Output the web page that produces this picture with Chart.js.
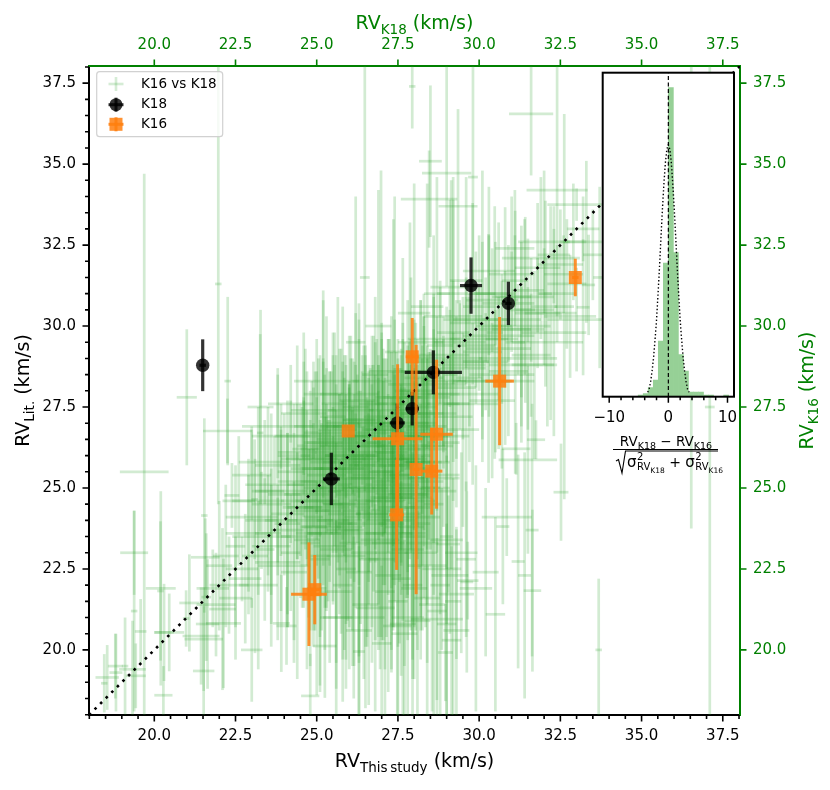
<!DOCTYPE html>
<html>
<head>
<meta charset="utf-8">
<script src="https://cdn.jsdelivr.net/npm/chart.js@4.4.0/dist/chart.umd.min.js"></script>
<style>
  body { margin: 0; background: #fff; }
  #wrap { position: relative; width: 830px; height: 790px; }
  #main { position: absolute; left: 0; top: 0; }
  #inset { position: absolute; left: 560px; top: 60px; }
</style>
</head>
<body>
<div id="wrap">
  <canvas id="main" width="830" height="790"></canvas>
  <canvas id="inset" width="190" height="420"></canvas>
</div>
<script>
// ---- data ----

// K16 vs K18 stars (x = RV_K18 on top axis, y = RV_K16 on right axis)
const k18RV = [
  19.69, 21.97, 21.0, 23.27, 22.25, 21.54, 22.26, 23.26, 26.48, 26.98,
  27.36, 27.65, 27.87, 27.94, 28.5, 29.0, 28.46, 29.35, 29.14, 29.81,
  30.29, 30.48, 30.8, 31.11, 31.42, 31.6, 32.04, 32.4, 32.62, 33.37,
  33.71, 33.2, 33.0, 31.75, 31.14, 31.5, 32.52, 30.85, 31.64, 30.73,
  31.2, 33.68, 36.53, 37.1, 28.6, 29.0, 28.8, 29.2, 29.62, 31.63,
  31.4, 29.05, 29.1, 29.65, 29.3, 28.7, 28.96, 22.39, 19.38, 21.57,
  20.2, 21.08, 20.46, 21.64, 21.44, 22.1, 21.52, 20.28, 18.55, 18.82,
  19.33, 19.43, 18.46, 19.1, 20.98, 21.6, 24.07, 24.8, 25.25, 20.19,
  19.38, 23.09, 19.58, 20.3, 21.52, 22.13, 23.0, 23.91, 26.3, 26.14,
  27.48, 18.8,
  21.8, 22.0, 22.3, 22.5, 22.7, 22.9, 23.1, 23.3, 23.4, 23.6,
  23.8, 23.9, 24.1, 24.2, 24.4, 24.5, 24.7, 24.8, 24.9, 25.0,
  25.1, 25.3, 25.4, 25.5, 25.6, 25.7, 25.8, 25.9, 26.0, 26.1,
  26.2, 26.3, 26.4, 26.5, 26.6, 26.7, 26.8, 26.9, 27.0, 27.1,
  27.2, 27.3, 27.4, 27.5, 27.6, 27.7, 27.8, 27.9, 28.0, 28.1,
  28.2, 28.3, 28.4, 28.5, 28.6, 28.7, 28.8, 28.9, 29.0, 29.2,
  29.3, 29.4, 29.6, 29.7, 29.9, 30.0, 30.2, 30.3, 30.5, 30.7,
  30.9, 31.1, 31.3, 31.5, 31.8, 32.0, 32.3, 32.6, 32.9, 33.2,
  33.5, 23.9, 24.6, 24.3, 25.2, 23.0, 22.6, 27.0, 27.6, 28.2,
  26.3, 25.6, 26.8, 28.0,
  24.0, 24.3, 24.6, 24.9, 25.2, 25.4, 25.7, 25.9, 26.1, 26.4,
  26.6, 26.9, 27.1, 27.4, 27.6, 27.9, 28.1, 28.4, 28.6, 28.9,
  24.2, 24.5, 24.8, 25.0, 25.3, 25.5, 25.8, 26.0, 26.3, 26.5,
  26.7, 27.0, 27.2, 27.5, 27.7, 28.0, 28.3, 28.5, 28.8, 29.1,
  23.6, 23.9, 24.4, 24.7, 25.1, 25.6, 25.9, 26.2, 26.6, 26.9,
  27.3, 27.6, 27.9, 28.2, 28.4, 28.7, 29.0, 29.3, 29.5, 29.8,
  30.1, 30.4, 30.6, 30.9, 31.2, 31.5, 31.8, 32.1, 32.4, 32.8,
  29.1, 29.4, 29.7, 30.0, 30.2, 30.5, 30.8, 31.0, 31.3, 31.6,
  22.8, 23.2, 23.5, 23.8, 24.1, 21.9, 22.2, 22.5, 23.0, 23.7,
  25.2, 25.5, 25.8, 26.0, 26.3, 26.6, 26.8, 27.1, 27.3, 27.6,
  27.8, 28.0, 28.3, 28.6, 28.9, 29.2, 25.4, 25.7, 26.1, 26.9,
  24.6, 24.9, 25.3, 23.4, 23.8, 24.2, 26.0, 26.7, 27.4, 28.2,
  25.05, 25.35, 25.65, 25.95, 26.25, 26.55, 26.85, 27.15, 27.45, 27.75,
  28.05, 28.35, 25.15, 25.45, 25.75, 26.05, 26.35, 26.65, 26.95, 27.25,
  27.55, 27.85, 28.15, 28.45, 24.85, 25.25, 25.55, 25.85, 26.15, 26.45,
  26.75, 27.05, 27.35, 27.65, 27.95, 28.25, 24.55, 24.75, 25.1, 25.6,
  26.05, 26.55, 27.05, 27.55, 28.05, 26.3, 26.8, 27.3, 25.9, 27.8,
  28.3, 28.6, 28.9, 29.2, 29.5, 29.8, 30.1, 30.4, 30.7, 31.0,
  31.3, 31.6, 31.9, 32.2, 32.5, 28.4, 28.8, 29.1, 29.6, 29.9,
  30.3, 30.6, 31.1, 31.4, 31.7, 32.0, 32.3, 32.7, 33.0, 33.3,
  27.2, 27.5, 27.8, 28.1, 28.4, 28.7, 29.0, 29.3, 29.6, 29.9,
  27.35, 27.65, 27.95, 28.25, 28.55, 28.85, 29.15, 29.45, 30.2, 30.5,
  24.6, 24.9, 25.2, 25.5, 25.8, 26.1, 26.4, 26.7, 27.0, 27.3,
  27.6, 27.9, 28.2, 28.5, 24.7, 25.0, 25.3, 25.6, 25.9, 26.2,
  26.5, 26.8, 27.1, 27.4, 27.7, 28.0, 28.3, 24.8, 25.1, 25.4,
  25.7, 26.0, 26.3, 26.6, 26.9, 27.2, 27.5, 27.8, 28.1, 28.4,
  24.65, 24.95, 25.25, 25.55, 25.85, 26.15, 26.45, 26.75, 27.05, 27.35,
  27.65, 27.95, 28.25, 23.5, 23.8, 24.1, 24.4, 22.9, 23.2, 23.6,
  26.2, 26.9, 27.4, 28.0, 28.7, 29.2, 29.6, 30.1, 25.8, 26.5,
  27.1, 27.8, 28.4, 29.0, 24.3, 25.0, 25.6, 26.3, 27.0, 27.7
];
const k16RV = [
  25.5, 31.3, 27.8, 27.5, 26.76, 24.15, 28.3, 26.7, 31.5, 27.6,
  27.0, 26.5, 28.0, 37.4, 35.09, 34.72, 33.92, 33.7, 28.5, 34.6,
  29.0, 29.8, 30.0, 29.5, 30.5, 36.55, 31.0, 34.2, 30.6, 31.27,
  31.5, 30.58, 33.75, 26.49, 26.21, 25.87, 24.87, 24.1, 21.83, 23.81,
  22.73, 20.0, 30.95, 27.5, 24.5, 23.5, 22.0, 21.5, 22.1, 23.7,
  22.3, 23.27, 22.3, 22.14, 21.72, 20.95, 19.92, 24.77, 23.0, 22.86,
  21.9, 21.45, 20.54, 20.8, 20.43, 21.26, 19.35, 18.6, 19.15, 19.3,
  19.4, 19.2, 18.97, 19.5, 20.97, 21.63, 20.74, 18.58, 20.12, 21.82,
  21.2, 24.65, 20.57, 20.54, 20.33, 20.82, 20.0, 20.82, 19.95, 21.0,
  20.74, 19.5,
  21.9, 22.6, 22.0, 23.2, 22.5, 23.6, 22.9, 24.0, 23.1, 24.5,
  23.5, 24.9, 24.2, 23.0, 25.2, 24.4, 25.6, 24.0, 25.0, 26.0,
  23.6, 25.4, 24.6, 26.4, 25.0, 23.9, 25.8, 24.8, 26.6, 25.3,
  24.3, 26.0, 25.6, 27.0, 24.9, 26.3, 23.6, 25.9, 26.8, 25.2,
  27.4, 26.1, 24.6, 27.8, 25.7, 26.6, 28.2, 24.2, 27.2, 25.6,
  28.6, 26.6, 27.8, 25.0, 28.9, 27.3, 29.4, 26.4, 28.2, 29.8,
  27.6, 28.8, 30.1, 28.4, 29.4, 30.6, 28.9, 30.0, 31.0, 29.6,
  30.7, 31.4, 30.2, 31.1, 31.8, 30.6, 32.2, 31.6, 32.6, 33.0,
  32.2, 26.6, 27.3, 26.0, 27.9, 25.4, 24.6, 22.8, 22.2, 23.0,
  22.4, 21.8, 21.3, 21.9,
  24.8, 23.5, 25.9, 24.1, 26.7, 23.2, 25.1, 26.3, 24.0, 27.1,
  25.4, 24.6, 26.0, 25.0, 27.3, 25.9, 24.4, 26.9, 25.3, 27.6,
  25.5, 24.6, 23.3, 25.2, 24.4, 27.2, 23.7, 25.7, 23.3, 26.0,
  24.2, 27.6, 24.8, 26.4, 23.8, 26.0, 25.0, 27.3, 24.9, 26.6,
  23.2, 24.0, 22.6, 24.8, 22.8, 25.6, 22.9, 26.6, 22.8, 26.7,
  23.3, 24.9, 27.6, 23.9, 25.8, 26.3, 25.4, 28.1, 26.8, 27.6,
  28.3, 27.7, 29.3, 28.6, 29.9, 29.0, 30.4, 29.5, 31.0, 30.3,
  29.0, 29.5, 28.9, 29.6, 30.2, 28.3, 29.9, 30.9, 28.8, 30.5,
  22.2, 22.0, 23.6, 22.7, 23.7, 21.4, 22.9, 21.6, 24.1, 25.1,
  25.8, 24.0, 26.9, 24.5, 25.0, 26.4, 25.8, 25.5, 27.0, 26.2,
  25.3, 28.0, 27.5, 26.6, 28.3, 27.2, 26.2, 24.5, 26.9, 25.1,
  26.6, 27.4, 28.3, 25.8, 26.9, 27.6, 27.9, 28.3, 28.6, 29.5,
  25.6, 24.3, 26.8, 23.9, 25.9, 24.1, 27.2, 24.7, 26.3, 25.1,
  27.9, 24.6, 23.8, 26.1, 24.9, 27.4, 24.4, 25.7, 23.4, 26.9,
  24.0, 27.0, 25.8, 26.3, 25.9, 24.9, 27.6, 26.0, 23.7, 26.6,
  25.3, 24.3, 25.9, 27.8, 23.6, 26.8, 24.4, 23.6, 26.3, 26.9,
  25.6, 23.9, 26.4, 25.4, 24.7, 27.7, 28.5, 23.0, 22.5, 24.8,
  28.4, 29.6, 27.9, 30.3, 28.7, 31.0, 29.2, 30.8, 28.5, 31.6,
  30.0, 29.1, 32.1, 30.4, 31.9, 30.6, 29.1, 31.2, 27.9, 30.2,
  31.7, 29.7, 32.4, 30.9, 28.8, 32.6, 29.8, 31.3, 30.2, 32.6,
  22.3, 21.5, 23.1, 20.9, 22.6, 21.2, 23.4, 20.6, 22.8, 21.9,
  23.6, 20.8, 22.0, 23.3, 21.4, 22.5, 20.3, 23.0, 22.4, 21.1,
  25.1, 23.8, 26.4, 24.5, 27.0, 23.6, 25.7, 24.2, 26.8, 23.9,
  25.4, 27.3, 24.1, 26.2, 23.4, 26.9, 25.0, 23.1, 25.9, 27.5,
  24.6, 26.1, 23.3, 25.7, 26.9, 24.8, 27.0, 24.3, 22.9, 25.6,
  26.5, 23.8, 27.1, 25.0, 24.0, 26.3, 24.4, 25.9, 26.7, 25.2,
  26.2, 24.6, 23.6, 26.0, 24.2, 25.5, 23.0, 27.0, 25.5, 24.7,
  26.6, 23.5, 25.8, 24.9, 25.7, 23.9, 26.1, 23.5, 24.6, 22.6,
  29.5, 30.0, 29.2, 30.4, 31.0, 30.2, 31.4, 31.0, 22.0, 21.4,
  21.8, 21.0, 21.6, 20.8, 22.4, 21.9, 21.0, 20.6, 20.2, 20.5
];
const k18Err = [
  0.75, 0.1, 0.31, 0.4, 0.75, 0.1, 0.1, 0.1, 0.15, 0.2,
  0.3, 0.25, 0.3, 0.1, 0.35, 0.76, 0.87, 0.6, 0.2, 0.15,
  0.3, 0.25, 0.2, 0.3, 0.3, 0.68, 0.2, 0.94, 0.3, 0.2,
  0.2, 0.2, 0.9, 0.28, 0.44, 0.9, 0.23, 0.77, 0.27, 0.2,
  0.2, 0.1, 0.15, 0.15, 0.3, 0.2, 0.3, 0.25, 0.2, 0.2,
  0.2, 0.36, 0.57, 0.33, 0.54, 0.8, 0.23, 0.23, 0.43, 0.44,
  0.46, 0.31, 0.46, 0.36, 0.57, 0.41, 0.33, 0.28, 0.36, 0.2,
  0.41, 0.31, 0.1, 0.1, 0.1, 0.15, 0.31, 0.28, 0.36, 0.1,
  0.1, 0.1, 0.18, 0.3, 0.59, 0.54, 0.33, 0.26, 0.18, 0.95,
  0.44, 0.23,
  0.5, 0.4, 0.6, 0.3, 0.5, 0.7, 0.4, 0.5, 0.3, 0.6,
  0.4, 0.8, 0.5, 0.3, 0.6, 0.4, 0.5, 0.7, 0.3, 0.5,
  0.4, 0.6, 0.3, 0.8, 0.5, 0.4, 0.6, 0.3, 0.5, 0.7,
  0.4, 0.5, 0.3, 0.6, 0.5, 0.4, 0.3, 0.8, 0.5, 0.4,
  0.6, 0.5, 0.3, 0.7, 0.4, 0.5, 0.6, 0.3, 0.5, 0.4,
  0.6, 0.5, 0.7, 0.3, 0.5, 0.6, 0.4, 0.5, 0.6, 0.5,
  0.4, 0.8, 0.5, 0.4, 0.6, 0.5, 0.7, 0.4, 0.6, 0.5,
  0.8, 0.4, 0.6, 0.5, 0.7, 0.4, 0.5, 0.6, 0.4, 0.5,
  0.3, 0.9, 0.7, 0.5, 0.6, 0.6, 0.5, 0.4, 0.3, 0.5,
  0.4, 0.5, 0.6, 0.4,
  0.5, 0.4, 0.7, 0.3, 0.6, 0.5, 0.4, 0.8, 0.3, 0.6,
  0.5, 0.4, 0.6, 0.7, 0.3, 0.5, 0.4, 0.6, 0.8, 0.5,
  0.4, 0.6, 0.3, 0.5, 0.7, 0.4, 0.5, 0.3, 0.6, 0.4,
  0.5, 0.7, 0.4, 0.3, 0.6, 0.5, 0.8, 0.4, 0.5, 0.6,
  0.6, 0.5, 0.4, 0.7, 0.3, 0.5, 0.6, 0.4, 0.3, 0.7,
  0.4, 0.5, 0.6, 0.3, 0.7, 0.5, 0.4, 0.6, 0.5, 0.8,
  0.9, 0.7, 1.0, 0.6, 0.8, 0.9, 0.7, 1.1, 0.6, 0.8,
  1.0, 0.8, 0.6, 0.9, 0.7, 1.2, 0.8, 0.6, 1.0, 0.7,
  0.5, 0.6, 0.4, 0.7, 0.5, 0.6, 0.4, 0.5, 0.8, 0.9,
  0.4, 0.5, 0.3, 0.6, 0.5, 0.4, 0.7, 0.5, 0.4, 0.6,
  0.5, 0.6, 0.4, 0.5, 0.7, 0.6, 0.9, 0.5, 0.8, 0.4,
  0.9, 0.7, 1.0, 0.8, 1.1, 0.7, 0.9, 0.6, 0.8, 0.7,
  0.5, 0.4, 0.6, 0.3, 0.5, 0.7, 0.4, 0.5, 0.6, 0.4,
  0.5, 0.3, 0.6, 0.5, 0.4, 0.7, 0.3, 0.5, 0.6, 0.4,
  0.5, 0.6, 0.4, 0.5, 0.8, 0.5, 0.4, 0.6, 0.3, 0.5,
  0.7, 0.4, 0.5, 0.6, 0.4, 0.5, 0.6, 0.4, 0.7, 0.5,
  0.4, 0.6, 0.5, 0.3, 0.5, 0.6, 0.4, 0.5, 0.3, 0.6,
  0.6, 0.8, 0.5, 0.9, 0.7, 1.1, 0.6, 0.8, 1.0, 0.7,
  0.9, 0.6, 1.2, 0.8, 0.7, 0.5, 0.9, 0.6, 1.0, 0.7,
  0.8, 1.1, 0.6, 0.9, 0.7, 0.8, 1.0, 0.6, 0.9, 0.7,
  0.4, 0.3, 0.5, 0.4, 0.6, 0.3, 0.5, 0.4, 0.3, 0.5,
  0.6, 0.4, 0.3, 0.5, 0.4, 0.6, 0.3, 0.5, 0.4, 0.3,
  0.5, 0.4, 0.6, 0.3, 0.5, 0.7, 0.4, 0.5, 0.6, 0.4,
  0.5, 0.3, 0.6, 0.5, 0.4, 0.7, 0.3, 0.5, 0.6, 0.4,
  0.5, 0.6, 0.4, 0.5, 0.8, 0.5, 0.4, 0.6, 0.3, 0.5,
  0.7, 0.4, 0.5, 0.6, 0.4, 0.5, 0.6, 0.4, 0.7, 0.5,
  0.4, 0.6, 0.5, 0.3, 0.5, 0.6, 0.4, 0.5, 0.3, 0.6,
  0.5, 0.4, 0.6, 0.5, 0.7, 0.4, 0.6, 0.5, 0.8, 0.4,
  0.3, 0.4, 0.3, 0.5, 0.4, 0.3, 0.5, 0.4, 0.3, 0.4,
  0.3, 0.5, 0.4, 0.3, 0.4, 0.3, 0.5, 0.4, 0.3, 0.4
];
const k16Err = [
  9.2, 6.8, 2.1, 3.0, 1.0, 3.0, 2.6, 3.05, 6.6, 7.2,
  6.3, 5.6, 5.2, 1.3, 2.34, 3.5, 1.5, 3.0, 6.0, 3.5,
  3.84, 3.9, 3.67, 4.06, 2.87, 1.9, 2.87, 3.9, 5.95, 1.55,
  2.8, 2.1, 0.5, 0.6, 0.8, 2.9, 1.5, 1.2, 2.5, 2.4,
  3.3, 2.2, 7.2, 11.0, 6.5, 5.5, 4.5, 3.8, 2.8, 3.9,
  3.8, 1.5, 1.8, 1.2, 2.0, 2.5, 1.5, 1.0, 1.3, 1.2,
  3.0, 1.5, 1.2, 2.0, 1.5, 2.5, 2.0, 0.9, 1.0, 1.2,
  1.5, 1.0, 0.9, 1.5, 0.87, 1.97, 1.2, 1.3, 1.6, 2.15,
  3.1, 1.85, 1.0, 1.5, 1.6, 2.0, 1.6, 1.5, 2.0, 2.5,
  3.0, 1.0,
  1.2, 2.0, 1.5, 2.5, 1.0, 1.8, 3.0, 1.5, 2.2, 2.8,
  1.2, 2.0, 3.5, 1.8, 2.4, 1.5, 3.0, 2.2, 1.2, 2.6,
  3.2, 1.8, 2.5, 3.4, 1.4, 2.0, 2.8, 4.0, 1.6, 2.2,
  3.0, 3.6, 1.3, 2.4, 2.8, 1.9, 3.3, 2.5, 3.0, 1.6,
  2.2, 4.2, 2.6, 1.8, 3.0, 2.0, 2.6, 3.6, 1.5, 2.8,
  2.2, 3.4, 1.6, 2.4, 2.0, 3.0, 1.8, 2.6, 2.4, 1.6,
  3.2, 2.0, 1.4, 2.6, 1.8, 2.2, 1.5, 2.8, 1.6, 2.0,
  1.8, 1.4, 2.4, 1.6, 2.0, 1.8, 1.5, 1.2, 1.8, 1.0,
  1.4, 1.0, 2.5, 1.6, 3.2, 1.4, 2.0, 2.5, 3.0, 2.0,
  2.6, 2.2, 3.2, 2.8,
  2.5, 3.2, 1.8, 4.0, 2.2, 3.6, 2.8, 1.6, 3.4, 2.0,
  3.0, 4.2, 2.4, 3.5, 1.8, 2.9, 4.4, 2.2, 3.6, 2.0,
  2.2, 3.0, 3.8, 2.6, 3.2, 1.9, 4.0, 2.4, 3.7, 2.8,
  3.5, 2.0, 3.1, 2.6, 4.3, 2.3, 3.4, 1.9, 3.8, 2.5,
  2.4, 2.8, 3.5, 2.0, 3.9, 2.6, 4.1, 2.2, 4.5, 2.4,
  4.0, 3.2, 2.0, 4.2, 2.7, 3.3, 2.9, 2.2, 3.0, 2.5,
  1.8, 2.4, 1.6, 2.0, 1.4, 2.2, 1.7, 2.6, 1.5, 1.9,
  1.5, 1.2, 2.0, 1.6, 1.3, 2.2, 1.8, 1.4, 2.4, 1.6,
  2.0, 2.6, 1.8, 2.4, 3.0, 1.6, 2.2, 1.9, 2.8, 1.5,
  3.2, 2.6, 2.0, 3.8, 3.0, 2.4, 2.7, 3.5, 2.2, 3.1,
  3.6, 2.2, 2.8, 3.3, 2.0, 2.6, 2.4, 3.4, 2.1, 3.7,
  1.2, 1.5, 2.0, 1.3, 1.6, 1.2, 1.8, 1.4, 1.6, 1.3,
  3.4, 2.8, 4.1, 3.0, 2.6, 3.7, 2.4, 4.3, 2.9, 3.5,
  2.2, 3.9, 3.2, 2.5, 4.4, 2.3, 3.6, 3.0, 4.0, 2.7,
  3.8, 2.5, 3.3, 2.9, 2.4, 3.6, 2.2, 3.1, 4.2, 2.8,
  3.5, 4.0, 2.7, 2.3, 3.9, 2.6, 3.1, 2.6, 2.8, 2.2,
  3.4, 3.8, 2.9, 3.3, 4.1, 3.0, 2.4, 3.6, 2.8, 3.2,
  2.6, 3.2, 1.8, 3.6, 2.2, 2.8, 3.4, 1.6, 2.9, 2.4,
  3.1, 1.9, 2.5, 3.3, 1.7, 3.8, 2.3, 2.7, 3.0, 2.1,
  2.6, 3.5, 1.8, 2.4, 2.9, 2.2, 3.2, 2.0, 1.6, 2.5,
  3.6, 4.0, 2.8, 3.4, 3.0, 4.2, 2.6, 3.2, 2.4, 3.8,
  2.9, 3.5, 4.1, 2.7, 3.3, 2.5, 2.9, 3.1, 2.6, 3.0,
  3.8, 3.2, 4.4, 3.0, 3.6, 4.1, 2.9, 4.6, 3.3, 3.9,
  2.8, 4.2, 3.5, 3.1, 4.0, 2.7, 3.7, 4.3, 3.2, 2.9,
  4.5, 3.4, 3.9, 3.0, 2.6, 4.1, 3.3, 3.7, 4.2, 3.0,
  2.8, 4.4, 3.1, 3.6, 4.0, 3.3, 4.3, 3.5, 2.9, 3.8,
  3.1, 4.0, 3.6, 2.8, 4.2, 3.4, 3.9, 2.7, 3.5, 4.1,
  3.0, 4.4, 3.2, 2.6, 3.0, 2.8, 3.3, 2.4, 2.9, 2.5,
  4.5, 4.2, 4.8, 4.0, 3.6, 4.4, 3.2, 3.8, 3.6, 3.2,
  3.9, 3.4, 3.7, 3.1, 2.8, 3.3, 3.0, 2.6, 2.4, 2.9
];

// K18 stars: this study vs literature
const k18This    = [21.49, 25.45, 27.48, 27.94, 28.59, 29.75, 30.9];
const k18Lit     = [28.79, 25.28, 27.01, 27.45, 28.57, 31.25, 30.7];
const k18ThisErr = [0.1, 0.26, 0.23, 0.2, 0.88, 0.34, 0.1];
const k18LitErr  = [0.8, 0.81, 0.6, 0.52, 0.68, 0.87, 0.67];

// K16 stars: this study vs literature
const k16This    = [25.97, 27.49, 27.46, 27.94, 28.06, 28.54, 28.69, 30.63, 24.76, 24.94, 32.96];
const k16Lit     = [26.76, 26.52, 24.17, 29.05, 25.57, 25.52, 26.66, 28.3, 21.72, 21.86, 31.5];
const k16ThisErr = [0, 0.77, 0.23, 0.2, 0.1, 0.33, 0.5, 0.44, 0.55, 0.2, 0.1];
const k16LitErr  = [0, 2.3, 1.7, 1.2, 3.85, 1.34, 2.3, 1.98, 1.6, 1.07, 0.58];

// inset histogram of normalised differences
const histCenters = [-4.675, -3.825, -2.975, -2.125, -1.275, -0.425, 0.425, 1.275, 2.125,
                     2.975, 3.825, 4.675, 5.525, 6.375, 7.225, 8.075, 8.925, 9.775];
const histCounts  = [1, 2, 6, 11, 37, 89, 206, 96, 28, 17, 3, 3, 3, 1, 1, 0, 0, 1];
const gaussX = [-3.5, -3.25, -3, -2.75, -2.5, -2.25, -2, -1.75, -1.5, -1.25, -1, -0.75, -0.5, -0.25, 0,
                0.25, 0.5, 0.75, 1, 1.25, 1.5, 1.75, 2, 2.25, 2.5, 2.75, 3, 3.25, 3.5];
const gaussY = [3, 5, 10, 17, 26, 38, 51, 68, 86, 106, 125, 142, 156, 165, 168,
                165, 156, 142, 125, 106, 86, 68, 51, 38, 26, 17, 10, 5, 3];

// ticks
const mainTicks  = [20.0, 22.5, 25.0, 27.5, 30.0, 32.5, 35.0, 37.5];
const minorStep  = 0.5;
const insetTicks = [-10, 0, 10];
const insetMinorStep = 2;

// ---- drawing ----
const FONT = 'DejaVu Sans';
const AXIS_GREEN = '#008000';
const RV_MIN = 17.99, RV_MAX = 38.03;
Chart.defaults.font.family = FONT;

function font(size) { return size + 'px "' + FONT + '"'; }

// draws a list of [text, size, dy] runs left to right
function drawRuns(ctx, runs, x, y, align) {
  let total = 0;
  runs.forEach(r => { ctx.font = font(r[1]); total += ctx.measureText(r[0]).width; });
  let cx = align === 'center' ? x - total / 2 : x;
  ctx.textAlign = 'left';
  ctx.textBaseline = 'alphabetic';
  runs.forEach(r => {
    ctx.font = font(r[1]);
    ctx.fillText(r[0], cx, y + r[2]);
    cx += ctx.measureText(r[0]).width;
  });
  return total;
}

function minorValues(lo, hi, step, majors) {
  const out = [];
  for (let i = Math.ceil(lo / step); i * step <= hi; i++) {
    const v = +(i * step).toFixed(4);
    if (!majors.some(m => Math.abs(m - v) < 1e-6)) out.push(v);
  }
  return out;
}

function drawTicks(ctx, scale, values, len, side, area) {
  ctx.beginPath();
  values.forEach(v => {
    if (v < scale.min || v > scale.max) return;
    const p = scale.getPixelForValue(v);
    if (side === 'bottom') { ctx.moveTo(p, area.bottom); ctx.lineTo(p, area.bottom + len); }
    if (side === 'top')    { ctx.moveTo(p, area.top);    ctx.lineTo(p, area.top - len); }
    if (side === 'left')   { ctx.moveTo(area.left, p);   ctx.lineTo(area.left - len, p); }
    if (side === 'right')  { ctx.moveTo(area.right, p);  ctx.lineTo(area.right + len, p); }
  });
  ctx.stroke();
}

const errorBars = {
  id: 'errorBars',
  beforeDatasetDraw(chart, args) {
    const ds = chart.data.datasets[args.index];
    if (!ds.errX) return;
    const xs = chart.scales[ds.xAxisID || 'x'];
    const ys = chart.scales[ds.yAxisID || 'y'];
    const a = chart.chartArea;
    const ctx = chart.ctx;
    ctx.save();
    ctx.beginPath();
    ctx.rect(a.left, a.top, a.right - a.left, a.bottom - a.top);
    ctx.clip();
    ctx.strokeStyle = ds.errColor;
    ctx.lineWidth = ds.errWidth;
    ds.data.forEach((p, i) => {
      const px = xs.getPixelForValue(p.x), py = ys.getPixelForValue(p.y);
      if (ds.errX[i] > 0) {
        ctx.beginPath();
        ctx.moveTo(xs.getPixelForValue(p.x - ds.errX[i]), py);
        ctx.lineTo(xs.getPixelForValue(p.x + ds.errX[i]), py);
        ctx.stroke();
      }
      if (ds.errY[i] > 0) {
        ctx.beginPath();
        ctx.moveTo(px, ys.getPixelForValue(p.y - ds.errY[i]));
        ctx.lineTo(px, ys.getPixelForValue(p.y + ds.errY[i]));
        ctx.stroke();
      }
    });
    ctx.restore();
  }
};

const GREEN_ERR = 'rgba(44,160,44,0.21)';
const BLACK_PT = 'rgba(0,0,0,0.8)';
const ORANGE_PT = 'rgba(255,127,14,0.85)';

const decorations = {
  id: 'decorations',
  afterDraw(chart) {
    const ctx = chart.ctx, a = chart.chartArea;
    const s = chart.scales;
    ctx.save();
    ctx.lineWidth = 1.6;
    // ticks
    const minors = minorValues(18, 38, minorStep, mainTicks);
    ctx.strokeStyle = '#000';
    drawTicks(ctx, s.x, mainTicks, 6.5, 'bottom', a);
    drawTicks(ctx, s.x, minors, 4, 'bottom', a);
    drawTicks(ctx, s.y, mainTicks, 6.5, 'left', a);
    drawTicks(ctx, s.y, minors, 4, 'left', a);
    ctx.strokeStyle = AXIS_GREEN;
    drawTicks(ctx, s.xTop, mainTicks, 6.5, 'top', a);
    drawTicks(ctx, s.yRight, mainTicks, 6.5, 'right', a);

    // axis titles
    const cx = (a.left + a.right) / 2, cy = (a.top + a.bottom) / 2;
    ctx.fillStyle = '#000';
    drawRuns(ctx, [['RV', 19, 0], ['This\u2009study', 13.5, 5], [' (km/s)', 19, 0]], cx, 766.5, 'center');
    ctx.save();
    ctx.translate(29, cy);
    ctx.rotate(-Math.PI / 2);
    drawRuns(ctx, [['RV', 19, 0], ['Lit.', 13.5, 5], [' (km/s)', 19, 0]], 0, 0, 'center');
    ctx.restore();
    ctx.fillStyle = AXIS_GREEN;
    drawRuns(ctx, [['RV', 19, 0], ['K18', 13.5, 4.5], [' (km/s)', 19, 0]], cx, 29.3, 'center');
    ctx.save();
    ctx.translate(813, cy);
    ctx.rotate(-Math.PI / 2);
    drawRuns(ctx, [['RV', 19, 0], ['K16', 13.5, 4.5], [' (km/s)', 19, 0]], 0, 0, 'center');
    ctx.restore();

    // legend
    const lx = 96.7, ly = 71.7, lw = 126, lh = 65, r = 3;
    ctx.beginPath();
    ctx.moveTo(lx + r, ly);
    ctx.arcTo(lx + lw, ly, lx + lw, ly + lh, r);
    ctx.arcTo(lx + lw, ly + lh, lx, ly + lh, r);
    ctx.arcTo(lx, ly + lh, lx, ly, r);
    ctx.arcTo(lx, ly, lx + lw, ly, r);
    ctx.closePath();
    ctx.fillStyle = 'rgba(255,255,255,0.8)';
    ctx.fill();
    ctx.strokeStyle = 'rgba(204,204,204,0.9)';
    ctx.lineWidth = 1.2;
    ctx.stroke();

    const mx = 116, rows = [84, 104.7, 124.3];
    const cross = (y, color, w) => {
      ctx.strokeStyle = color; ctx.lineWidth = w;
      ctx.beginPath(); ctx.moveTo(mx - 7.5, y); ctx.lineTo(mx + 7.5, y); ctx.stroke();
      ctx.beginPath(); ctx.moveTo(mx, y - 7); ctx.lineTo(mx, y + 7); ctx.stroke();
    };
    cross(rows[0], 'rgba(44,160,44,0.2)', 2.6);
    cross(rows[1], BLACK_PT, 3);
    ctx.fillStyle = BLACK_PT;
    ctx.beginPath(); ctx.arc(mx, rows[1], 6.5, 0, Math.PI * 2); ctx.fill();
    cross(rows[2], ORANGE_PT, 3);
    ctx.fillStyle = ORANGE_PT;
    ctx.fillRect(mx - 6.5, rows[2] - 6.5, 13, 13);

    ctx.fillStyle = '#000';
    ctx.font = font(13.5);
    ctx.textAlign = 'left';
    ctx.textBaseline = 'middle';
    ctx.fillText('K16 vs K18', 141, rows[0]);
    ctx.fillText('K18', 141, rows[1]);
    ctx.fillText('K16', 141, rows[2]);
    ctx.restore();
  }
};

function rvScale(position, color, size) {
  const horiz = position === 'top' || position === 'bottom';
  return {
    type: 'linear',
    position: position,
    min: RV_MIN,
    max: RV_MAX,
    afterBuildTicks: sc => { sc.ticks = mainTicks.map(v => ({ value: v })); },
    afterFit: sc => { if (horiz) sc.height = size; else sc.width = size; },
    ticks: {
      callback: v => v.toFixed(1),
      font: { size: 15 },
      color: color,
      padding: horiz ? 12 : 13,
      maxRotation: 0,
      autoSkip: false
    },
    grid: { display: false, drawTicks: false },
    border: { display: true, color: color, width: 2 }
  };
}

new Chart(document.getElementById('main'), {
  type: 'scatter',
  data: {
    datasets: [
      {
        label: 'K16',
        data: k16This.map((x, i) => ({ x: x, y: k16Lit[i] })),
        errX: k16ThisErr, errY: k16LitErr, errColor: ORANGE_PT, errWidth: 3,
        pointStyle: 'rect', pointRadius: 9.2, pointBackgroundColor: ORANGE_PT, pointBorderWidth: 0,
        order: 0
      },
      {
        label: 'K18',
        data: k18This.map((x, i) => ({ x: x, y: k18Lit[i] })),
        errX: k18ThisErr, errY: k18LitErr, errColor: BLACK_PT, errWidth: 3.2,
        pointStyle: 'circle', pointRadius: 6.7, pointBackgroundColor: BLACK_PT, pointBorderWidth: 0,
        order: 1
      },
      {
        label: 'one to one',
        data: [{ x: RV_MIN, y: RV_MIN }, { x: RV_MAX, y: RV_MAX }],
        showLine: true, borderColor: '#000', borderWidth: 2.6, borderDash: [2.6, 5.3],
        pointRadius: 0, order: 2
      },
      {
        label: 'K16 vs K18',
        xAxisID: 'xTop', yAxisID: 'yRight',
        data: k18RV.map((x, i) => ({ x: x, y: k16RV[i] })),
        errX: k18Err, errY: k16Err, errColor: GREEN_ERR, errWidth: 2.7,
        pointRadius: 0, order: 3
      }
    ]
  },
  options: {
    responsive: false,
    animation: false,
    events: [],
    layout: { padding: 0 },
    plugins: { legend: { display: false }, tooltip: { enabled: false } },
    scales: {
      x: rvScale('bottom', '#000', 75),
      y: rvScale('left', '#000', 89),
      xTop: rvScale('top', AXIS_GREEN, 66),
      yRight: rvScale('right', AXIS_GREEN, 90)
    }
  },
  plugins: [errorBars, decorations]
});

// ---- inset ----
const insetDeco = {
  id: 'insetDeco',
  beforeDraw(chart) {
    const ctx = chart.ctx, a = chart.chartArea;
    ctx.save();
    ctx.fillStyle = '#fff';
    ctx.fillRect(a.left, a.top, a.right - a.left, a.bottom - a.top);
    ctx.restore();
  },
  afterDraw(chart) {
    const ctx = chart.ctx, a = chart.chartArea, sx = chart.scales.x;
    ctx.save();
    ctx.strokeStyle = '#000';
    ctx.lineWidth = 2;
    ctx.strokeRect(a.left, a.top, a.right - a.left, a.bottom - a.top);
    ctx.lineWidth = 1.5;
    drawTicks(ctx, sx, insetTicks, 6, 'bottom', a);
    drawTicks(ctx, sx, minorValues(-10, 10, insetMinorStep, insetTicks), 3.5, 'bottom', a);

    // x label: (RV_K18 - RV_K16) / sqrt(s^2 + s^2)
    ctx.fillStyle = '#000';
    const cx = 106;
    drawRuns(ctx, [['RV', 13.5, 0], ['K18', 9.5, 3], [' \u2212 ', 13.5, 0], ['RV', 13.5, 0], ['K16', 9.5, 3]], cx, 385.5, 'center');
    ctx.lineWidth = 1.1;
    ctx.beginPath(); ctx.moveTo(53, 389.5); ctx.lineTo(158, 389.5); ctx.stroke();

    const base = 407;
    const sigma = (x, sub) => {
      ctx.font = font(15);
      ctx.fillText('\u03c3', x, base);
      x += ctx.measureText('\u03c3').width + 0.5;
      ctx.font = font(10);
      ctx.fillText('2', x, base - 7);
      ctx.fillText('RV', x, base + 2.5);
      x += ctx.measureText('RV').width;
      ctx.font = font(7.5);
      ctx.fillText(sub, x, base + 5.5);
      return x + ctx.measureText(sub).width;
    };
    ctx.textAlign = 'left';
    ctx.textBaseline = 'alphabetic';
    let x = 67;
    x = sigma(x, 'K18');
    ctx.font = font(14);
    ctx.fillText(' + ', x, base);
    x += ctx.measureText(' + ').width;
    x = sigma(x, 'K16');
    ctx.lineWidth = 1.1;
    ctx.beginPath();
    ctx.moveTo(56, base - 6);
    ctx.lineTo(58.5, base - 7.5);
    ctx.lineTo(62, base + 6);
    ctx.lineTo(65.5, base - 16);
    ctx.lineTo(158, base - 16);
    ctx.stroke();
    ctx.restore();
  }
};

new Chart(document.getElementById('inset'), {
  type: 'bar',
  data: {
    datasets: [
      {
        type: 'line',
        data: gaussX.map((x, i) => ({ x: x, y: gaussY[i] })),
        borderColor: '#000', borderWidth: 1.4, borderDash: [1.4, 2.2],
        pointRadius: 0, tension: 0, order: 0
      },
      {
        type: 'line',
        data: [{ x: 0, y: 0 }, { x: 0, y: 216 }],
        borderColor: '#000', borderWidth: 1.2, borderDash: [4, 2.6],
        pointRadius: 0, order: 1
      },
      {
        type: 'bar',
        data: histCenters.map((x, i) => ({ x: x, y: histCounts[i] })),
        backgroundColor: '#96d096', borderWidth: 0,
        barPercentage: 1, categoryPercentage: 1, order: 2
      }
    ]
  },
  options: {
    responsive: false,
    animation: false,
    events: [],
    layout: { padding: { left: 42.7, right: 16, top: 12.7, bottom: 0 } },
    plugins: { legend: { display: false }, tooltip: { enabled: false } },
    scales: {
      x: {
        type: 'linear',
        min: -11.1,
        max: 11.1,
        offset: false,
        afterBuildTicks: sc => { sc.ticks = insetTicks.map(v => ({ value: v })); },
        afterFit: sc => { sc.height = 83.3; },
        ticks: {
          callback: v => (v < 0 ? '\u2212' + Math.abs(v) : String(v)),
          font: { size: 15 },
          color: '#000',
          padding: 12,
          maxRotation: 0,
          autoSkip: false
        },
        grid: { display: false, drawTicks: false },
        border: { display: false }
      },
      y: { display: false, min: 0, max: 216 }
    }
  },
  plugins: [insetDeco]
});
</script>
</body>
</html>
